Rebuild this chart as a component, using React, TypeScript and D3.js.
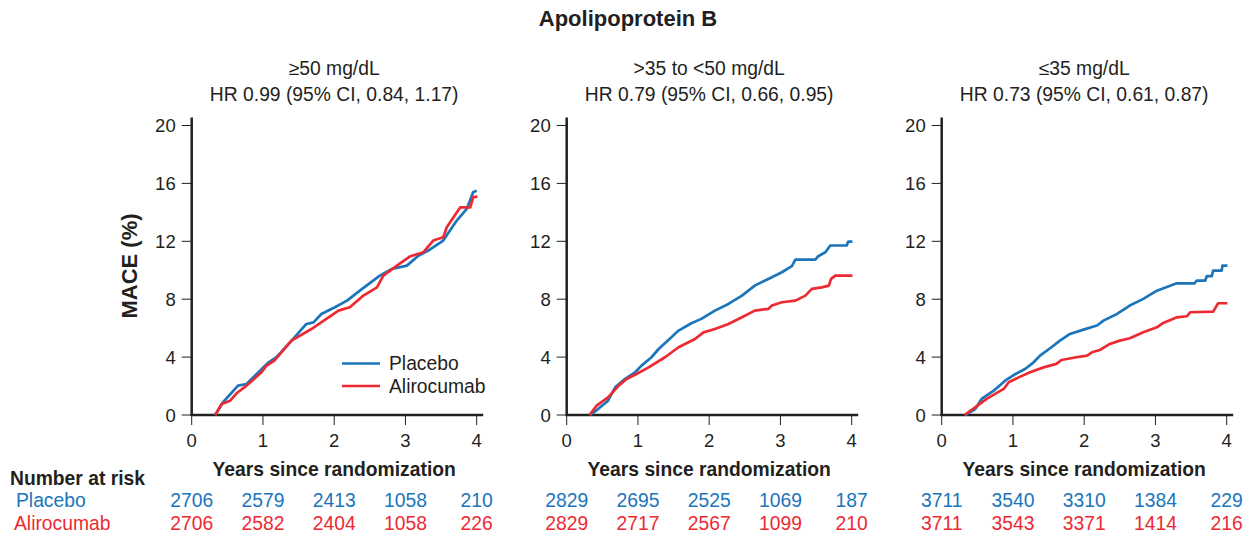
import React from 'react';
import * as d3 from 'd3';

// years / MACE %
const p1Placebo = [
  [0.33, 0], [0.44, 0.88], [0.65, 2.03], [0.77, 2.14], [1.08, 3.64], [1.19, 3.99], [1.38, 5.02],
  [1.61, 6.29], [1.71, 6.4], [1.82, 6.98], [2.01, 7.44], [2.18, 7.9], [2.36, 8.59], [2.64, 9.63],
  [2.81, 10.09], [3.02, 10.32], [3.18, 11.0], [3.32, 11.36], [3.53, 12.05], [3.72, 13.43],
  [3.86, 14.24], [3.95, 15.39], [4.0, 15.5]
];
const p1Aliro = [
  [0.33, 0], [0.42, 0.76], [0.54, 0.99], [0.63, 1.5], [0.77, 2.03], [0.98, 2.95], [1.05, 3.41],
  [1.16, 3.76], [1.4, 5.14], [1.68, 5.94], [1.92, 6.75], [2.06, 7.21], [2.22, 7.44], [2.41, 8.25],
  [2.6, 8.82], [2.69, 9.63], [2.88, 10.32], [3.07, 10.97], [3.25, 11.24], [3.39, 12.05],
  [3.53, 12.28], [3.58, 12.97], [3.77, 14.35], [3.91, 14.35], [3.95, 15.05], [4.01, 15.09]
];
const p2Placebo = [
  [0.33, 0], [0.44, 0.41], [0.58, 0.99], [0.68, 1.91], [0.8, 2.42], [0.96, 2.95], [1.05, 3.41],
  [1.19, 3.99], [1.29, 4.56], [1.47, 5.37], [1.57, 5.83], [1.75, 6.34], [1.89, 6.64], [2.08, 7.21],
  [2.27, 7.67], [2.46, 8.25], [2.64, 8.94], [2.83, 9.4], [3.02, 9.86], [3.16, 10.28], [3.21, 10.74],
  [3.49, 10.74], [3.53, 10.97], [3.63, 11.24], [3.7, 11.71], [3.93, 11.71], [3.95, 11.98], [4.01, 11.98]
];
const p2Aliro = [
  [0.32, 0], [0.42, 0.65], [0.58, 1.22], [0.73, 2.03], [0.84, 2.49], [0.98, 2.83], [1.15, 3.29],
  [1.38, 3.99], [1.57, 4.68], [1.8, 5.25], [1.92, 5.71], [2.08, 5.94], [2.27, 6.29], [2.46, 6.75],
  [2.64, 7.21], [2.83, 7.33], [2.88, 7.56], [3.02, 7.79], [3.21, 7.9], [3.35, 8.25], [3.44, 8.71],
  [3.58, 8.82], [3.68, 8.94], [3.71, 9.4], [3.77, 9.63], [4.01, 9.63]
];
const p3Placebo = [
  [0.33, 0], [0.47, 0.41], [0.56, 1.11], [0.73, 1.68], [0.89, 2.37], [1.01, 2.76], [1.17, 3.18],
  [1.29, 3.64], [1.38, 4.1], [1.54, 4.68], [1.66, 5.14], [1.8, 5.6], [1.99, 5.9], [2.18, 6.18],
  [2.27, 6.52], [2.46, 6.98], [2.64, 7.56], [2.83, 8.02], [3.02, 8.59], [3.3, 9.1], [3.55, 9.1],
  [3.58, 9.29], [3.7, 9.29], [3.72, 9.59], [3.79, 9.59], [3.81, 9.98], [3.93, 9.98], [3.94, 10.32],
  [4.01, 10.32]
];
const p3Aliro = [
  [0.32, 0], [0.47, 0.53], [0.63, 1.11], [0.87, 1.8], [0.94, 2.26], [1.08, 2.6], [1.24, 2.95],
  [1.43, 3.29], [1.61, 3.53], [1.68, 3.8], [1.89, 3.99], [2.04, 4.1], [2.11, 4.33], [2.22, 4.49],
  [2.36, 4.91], [2.5, 5.14], [2.64, 5.3], [2.83, 5.71], [3.02, 6.06], [3.11, 6.36], [3.3, 6.75],
  [3.44, 6.82], [3.49, 7.1], [3.81, 7.14], [3.88, 7.72], [4.01, 7.72]
];

const subgroups = ['≥50 mg/dL', '>35 to <50 mg/dL', '≤35 mg/dL'];
const hrLabels = ['HR 0.99 (95% CI, 0.84, 1.17)', 'HR 0.79 (95% CI, 0.66, 0.95)', 'HR 0.73 (95% CI, 0.61, 0.87)'];
const riskPlacebo = [[2706, 2579, 2413, 1058, 210], [2829, 2695, 2525, 1069, 187], [3711, 3540, 3310, 1384, 229]];
const riskAliro = [[2706, 2582, 2404, 1058, 226], [2829, 2717, 2567, 1099, 210], [3711, 3543, 3371, 1414, 216]];
const xTicks = [0, 1, 2, 3, 4];
const yTicks = [0, 4, 8, 12, 16, 20];

const BLUE = '#1b75bb';
const RED = '#ed2a32';
const INK = '#231f20';
const FONT = "'Liberation Sans', Arial, sans-serif";
const FS = 19.3;

const panels = [
  {placebo: p1Placebo, aliro: p1Aliro},
  {placebo: p2Placebo, aliro: p2Aliro},
  {placebo: p3Placebo, aliro: p3Aliro}
];

function Panel({idx, left}: {idx: number; left: number}) {
  const x = d3.scaleLinear().domain([0, 4]).range([left, left + 285]);
  const y = d3.scaleLinear().domain([0, 20]).range([415, 125.5]);
  const line = d3.line<number[]>().x(d => x(d[0])).y(d => y(d[1]));
  const cx = (x(0) + x(4)) / 2;
  const p = panels[idx];

  return (
    <g>
      <text x={cx} y={75} textAnchor="middle" fontSize={FS} fill={INK}>{subgroups[idx]}</text>
      <text x={cx} y={101} textAnchor="middle" fontSize={FS} fill={INK}>{hrLabels[idx]}</text>

      {yTicks.map(t => (
        <g key={'y' + t}>
          <line x1={x(0) - 10} x2={x(0)} y1={y(t)} y2={y(t)} stroke={INK} strokeWidth={1} />
          <text x={x(0) - 16} y={y(t)} dy="0.36em" textAnchor="end" fontSize={18.5} fill={INK}>{t}</text>
        </g>
      ))}
      {xTicks.map(t => (
        <g key={'x' + t}>
          <line x1={x(t)} x2={x(t)} y1={y(0)} y2={y(0) + 10} stroke={INK} strokeWidth={1} />
          <text x={x(t)} y={447} textAnchor="middle" fontSize={18.5} fill={INK}>{t}</text>
        </g>
      ))}
      <line x1={x(0)} x2={x(0)} y1={117.5} y2={416} stroke={INK} strokeWidth={2.5} />
      <line x1={x(0) - 1} x2={x(4) + 6.5} y1={y(0)} y2={y(0)} stroke={INK} strokeWidth={2.5} />

      <path d={line(p.placebo) || ''} fill="none" stroke={BLUE} strokeWidth={2.7} strokeLinejoin="round" />
      <path d={line(p.aliro) || ''} fill="none" stroke={RED} strokeWidth={2.7} strokeLinejoin="round" />

      <text x={cx} y={476} textAnchor="middle" fontSize={FS} fontWeight="bold" fill={INK}>Years since randomization</text>

      {riskPlacebo[idx].map((n, i) => (
        <text key={'rp' + i} x={x(xTicks[i])} y={507} textAnchor="middle" fontSize={FS} fill={BLUE}>{n}</text>
      ))}
      {riskAliro[idx].map((n, i) => (
        <text key={'ra' + i} x={x(xTicks[i])} y={530} textAnchor="middle" fontSize={FS} fill={RED}>{n}</text>
      ))}
    </g>
  );
}

export default function App() {
  const lefts = [191.7, 566.7, 941.7];
  return (
    <svg width={1256} height={536} style={{position: 'absolute', left: 0, top: 0, background: '#fff'}}
      fontFamily={FONT}>
      <rect width={1256} height={536} fill="#fff" />
      <text x={628} y={26} textAnchor="middle" fontSize={22} fontWeight="bold" fill={INK}>Apolipoprotein B</text>
      <text transform="translate(137,266) rotate(-90)" textAnchor="middle" fontSize={22} fontWeight="bold" fill={INK}>MACE (%)</text>

      {lefts.map((l, i) => <Panel key={i} idx={i} left={l} />)}

      {/* legend, first panel */}
      <line x1={342} x2={380} y1={363.5} y2={363.5} stroke={BLUE} strokeWidth={2.7} />
      <line x1={342} x2={380} y1={386} y2={386} stroke={RED} strokeWidth={2.7} />
      <text x={389} y={363.5} dy="0.36em" fontSize={FS} fill={INK}>Placebo</text>
      <text x={389} y={386} dy="0.36em" fontSize={FS} fill={INK}>Alirocumab</text>

      <text x={10} y={485} fontSize={FS} fontWeight="bold" fill={INK}>Number at risk</text>
      <text x={16} y={507} fontSize={FS} fill={BLUE}>Placebo</text>
      <text x={14} y={530} fontSize={FS} fill={RED}>Alirocumab</text>
    </svg>
  );
}
